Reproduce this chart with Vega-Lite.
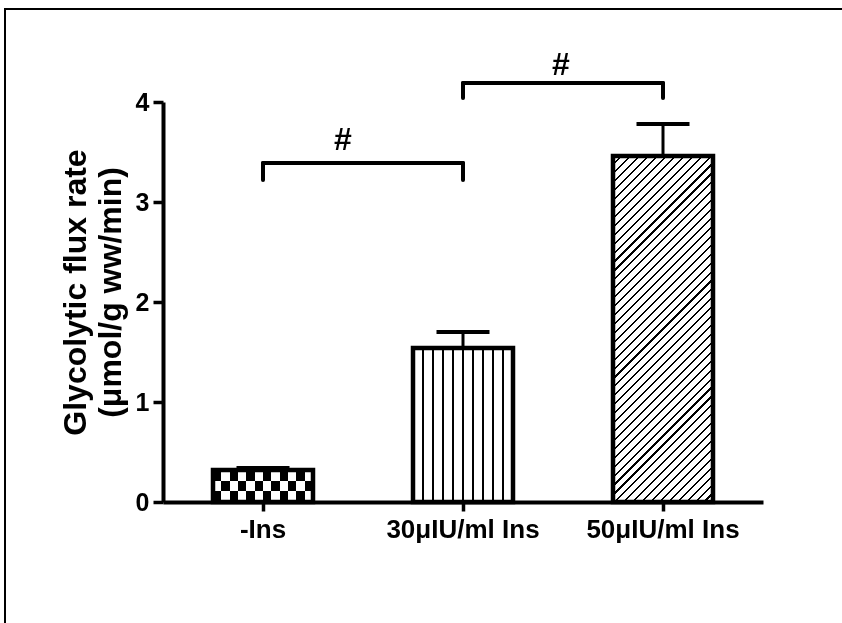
{
  "$schema": "https://vega.github.io/schema/vega-lite/v6.json",
  "width": 838,
  "height": 615,
  "autosize": {"type": "none"},
  "padding": {"left": 5, "top": 9, "right": 0, "bottom": 0},
  "background": "white",
  "config": {
    "view": {"stroke": "black", "strokeWidth": 2},
    "font": "Liberation Sans",
    "axis": {
      "domainColor": "black", "tickColor": "black", "labelColor": "black", "titleColor": "black",
      "labelFont": "Liberation Sans", "titleFont": "Liberation Sans",
      "labelFontWeight": "bold", "titleFontWeight": "bold",
      "grid": false, "domainWidth": 4, "tickWidth": 3.5
    }
  },
  "datasets": {
    "bars": [
      {"group": "-Ins", "value": 0.32, "upper": 0.34},
      {"group": "30μIU/ml Ins", "value": 1.54, "upper": 1.70},
      {"group": "50μIU/ml Ins", "value": 3.46, "upper": 3.78}
    ],
    "brackets": [
      {"from": "-Ins", "to": "30μIU/ml Ins", "y": 3.39, "end": 3.22},
      {"from": "30μIU/ml Ins", "to": "50μIU/ml Ins", "y": 4.19, "end": 4.04}
    ]
  },
  "layer": [
    {
      "data": {"name": "bars"},
      "transform": [{"filter": "datum.group === '-Ins'"}],
      "mark": {
        "type": "bar",
        "fill": {"gradient": "linear", "x1": 0, "y1": 0, "x2": 1, "y2": 0, "stops": [
          {"offset": 0, "color": "#000"}, {"offset": 0.0833, "color": "#000"},
          {"offset": 0.0833, "color": "#fff"}, {"offset": 0.1667, "color": "#fff"},
          {"offset": 0.1667, "color": "#000"}, {"offset": 0.25, "color": "#000"},
          {"offset": 0.25, "color": "#fff"}, {"offset": 0.3333, "color": "#fff"},
          {"offset": 0.3333, "color": "#000"}, {"offset": 0.4167, "color": "#000"},
          {"offset": 0.4167, "color": "#fff"}, {"offset": 0.5, "color": "#fff"},
          {"offset": 0.5, "color": "#000"}, {"offset": 0.5833, "color": "#000"},
          {"offset": 0.5833, "color": "#fff"}, {"offset": 0.6667, "color": "#fff"},
          {"offset": 0.6667, "color": "#000"}, {"offset": 0.75, "color": "#000"},
          {"offset": 0.75, "color": "#fff"}, {"offset": 0.8333, "color": "#fff"},
          {"offset": 0.8333, "color": "#000"}, {"offset": 0.9167, "color": "#000"},
          {"offset": 0.9167, "color": "#fff"}, {"offset": 1, "color": "#fff"}
        ]}
      },
      "encoding": {
        "x": {
          "field": "group", "type": "nominal", "title": null,
          "scale": {"domain": ["-Ins", "30μIU/ml Ins", "50μIU/ml Ins"], "range": [158, 758], "paddingInner": 0.5, "paddingOuter": 0.25},
          "axis": {"orient": "bottom", "offset": -122, "title": null, "labelAngle": 0, "labelFontSize": 26, "labelPadding": 5, "tickSize": 9, "labelLimit": 0}
        },
        "y": {
          "field": "value", "type": "quantitative",
          "title": ["Glycolytic flux rate", "(μmol/g ww/min)"],
          "scale": {"domain": [0, 4], "range": [493, 93], "nice": false, "zero": false},
          "axis": {
            "orient": "left", "offset": -158, "values": [0, 1, 2, 3, 4], "format": "d",
            "tickSize": 10, "labelFontSize": 25, "labelPadding": 4,
            "title": ["Glycolytic flux rate", "(μmol/g ww/min)"],
            "titleFontSize": 32, "titlePadding": 8, "titleLineHeight": 35, "titleY": 283
          }
        }
      }
    },
    {
      "data": {"name": "bars"},
      "transform": [{"filter": "datum.group === '-Ins'"}],
      "mark": {
        "type": "bar",
        "blend": "difference",
        "fill": {"gradient": "linear", "x1": 0, "y1": 0, "x2": 0, "y2": 1, "stops": [
          {"offset": 0, "color": "#000"}, {"offset": 0.3333, "color": "#000"},
          {"offset": 0.3333, "color": "#fff"}, {"offset": 0.6667, "color": "#fff"},
          {"offset": 0.6667, "color": "#000"}, {"offset": 1, "color": "#000"}
        ]}
      },
      "encoding": {
        "x": {"field": "group", "type": "nominal"},
        "y": {"field": "value", "type": "quantitative"}
      }
    },
    {
      "data": {"name": "bars"},
      "transform": [{"filter": "datum.group === '30μIU/ml Ins'"}],
      "mark": {
        "type": "bar",
        "fill": {"gradient": "linear", "x1": 0, "y1": 0, "x2": 1, "y2": 0, "stops": [
          {"offset": 0, "color": "#fff"},
          {"offset": 0.093, "color": "#fff"}, {"offset": 0.093, "color": "#000"}, {"offset": 0.107, "color": "#000"}, {"offset": 0.107, "color": "#fff"},
          {"offset": 0.193, "color": "#fff"}, {"offset": 0.193, "color": "#000"}, {"offset": 0.207, "color": "#000"}, {"offset": 0.207, "color": "#fff"},
          {"offset": 0.293, "color": "#fff"}, {"offset": 0.293, "color": "#000"}, {"offset": 0.307, "color": "#000"}, {"offset": 0.307, "color": "#fff"},
          {"offset": 0.393, "color": "#fff"}, {"offset": 0.393, "color": "#000"}, {"offset": 0.407, "color": "#000"}, {"offset": 0.407, "color": "#fff"},
          {"offset": 0.493, "color": "#fff"}, {"offset": 0.493, "color": "#000"}, {"offset": 0.507, "color": "#000"}, {"offset": 0.507, "color": "#fff"},
          {"offset": 0.593, "color": "#fff"}, {"offset": 0.593, "color": "#000"}, {"offset": 0.607, "color": "#000"}, {"offset": 0.607, "color": "#fff"},
          {"offset": 0.693, "color": "#fff"}, {"offset": 0.693, "color": "#000"}, {"offset": 0.707, "color": "#000"}, {"offset": 0.707, "color": "#fff"},
          {"offset": 0.793, "color": "#fff"}, {"offset": 0.793, "color": "#000"}, {"offset": 0.807, "color": "#000"}, {"offset": 0.807, "color": "#fff"},
          {"offset": 0.893, "color": "#fff"}, {"offset": 0.893, "color": "#000"}, {"offset": 0.907, "color": "#000"}, {"offset": 0.907, "color": "#fff"},
          {"offset": 1, "color": "#fff"}
        ]}
      },
      "encoding": {
        "x": {"field": "group", "type": "nominal"},
        "y": {"field": "value", "type": "quantitative"}
      }
    },
    {
      "data": {"name": "bars"},
      "transform": [{"filter": "datum.group === '50μIU/ml Ins'"}],
      "mark": {
        "type": "bar",
        "fill": {"gradient": "linear", "x1": 0, "y1": 0, "x2": 0.3438, "y2": 1.1896, "stops": [
          {"offset": 0, "color": "#fff"},
          {"offset": 0.0176, "color": "#fff"}, {"offset": 0.0176, "color": "#000"}, {"offset": 0.0224, "color": "#000"}, {"offset": 0.0224, "color": "#fff"},
          {"offset": 0.0376, "color": "#fff"}, {"offset": 0.0376, "color": "#000"}, {"offset": 0.0424, "color": "#000"}, {"offset": 0.0424, "color": "#fff"},
          {"offset": 0.0576, "color": "#fff"}, {"offset": 0.0576, "color": "#000"}, {"offset": 0.0624, "color": "#000"}, {"offset": 0.0624, "color": "#fff"},
          {"offset": 0.0776, "color": "#fff"}, {"offset": 0.0776, "color": "#000"}, {"offset": 0.0824, "color": "#000"}, {"offset": 0.0824, "color": "#fff"},
          {"offset": 0.0976, "color": "#fff"}, {"offset": 0.0976, "color": "#000"}, {"offset": 0.1024, "color": "#000"}, {"offset": 0.1024, "color": "#fff"},
          {"offset": 0.1176, "color": "#fff"}, {"offset": 0.1176, "color": "#000"}, {"offset": 0.1224, "color": "#000"}, {"offset": 0.1224, "color": "#fff"},
          {"offset": 0.1376, "color": "#fff"}, {"offset": 0.1376, "color": "#000"}, {"offset": 0.1424, "color": "#000"}, {"offset": 0.1424, "color": "#fff"},
          {"offset": 0.1576, "color": "#fff"}, {"offset": 0.1576, "color": "#000"}, {"offset": 0.1624, "color": "#000"}, {"offset": 0.1624, "color": "#fff"},
          {"offset": 0.1776, "color": "#fff"}, {"offset": 0.1776, "color": "#000"}, {"offset": 0.1824, "color": "#000"}, {"offset": 0.1824, "color": "#fff"},
          {"offset": 0.1976, "color": "#fff"}, {"offset": 0.1976, "color": "#000"}, {"offset": 0.2024, "color": "#000"}, {"offset": 0.2024, "color": "#fff"},
          {"offset": 0.2176, "color": "#fff"}, {"offset": 0.2176, "color": "#000"}, {"offset": 0.2224, "color": "#000"}, {"offset": 0.2224, "color": "#fff"},
          {"offset": 0.2376, "color": "#fff"}, {"offset": 0.2376, "color": "#000"}, {"offset": 0.2424, "color": "#000"}, {"offset": 0.2424, "color": "#fff"},
          {"offset": 0.2576, "color": "#fff"}, {"offset": 0.2576, "color": "#000"}, {"offset": 0.2624, "color": "#000"}, {"offset": 0.2624, "color": "#fff"},
          {"offset": 0.2776, "color": "#fff"}, {"offset": 0.2776, "color": "#000"}, {"offset": 0.2824, "color": "#000"}, {"offset": 0.2824, "color": "#fff"},
          {"offset": 0.2976, "color": "#fff"}, {"offset": 0.2976, "color": "#000"}, {"offset": 0.3024, "color": "#000"}, {"offset": 0.3024, "color": "#fff"},
          {"offset": 0.3176, "color": "#fff"}, {"offset": 0.3176, "color": "#000"}, {"offset": 0.3224, "color": "#000"}, {"offset": 0.3224, "color": "#fff"},
          {"offset": 0.3376, "color": "#fff"}, {"offset": 0.3376, "color": "#000"}, {"offset": 0.3424, "color": "#000"}, {"offset": 0.3424, "color": "#fff"},
          {"offset": 0.3576, "color": "#fff"}, {"offset": 0.3576, "color": "#000"}, {"offset": 0.3624, "color": "#000"}, {"offset": 0.3624, "color": "#fff"},
          {"offset": 0.3776, "color": "#fff"}, {"offset": 0.3776, "color": "#000"}, {"offset": 0.3824, "color": "#000"}, {"offset": 0.3824, "color": "#fff"},
          {"offset": 0.3976, "color": "#fff"}, {"offset": 0.3976, "color": "#000"}, {"offset": 0.4024, "color": "#000"}, {"offset": 0.4024, "color": "#fff"},
          {"offset": 0.4176, "color": "#fff"}, {"offset": 0.4176, "color": "#000"}, {"offset": 0.4224, "color": "#000"}, {"offset": 0.4224, "color": "#fff"},
          {"offset": 0.4376, "color": "#fff"}, {"offset": 0.4376, "color": "#000"}, {"offset": 0.4424, "color": "#000"}, {"offset": 0.4424, "color": "#fff"},
          {"offset": 0.4576, "color": "#fff"}, {"offset": 0.4576, "color": "#000"}, {"offset": 0.4624, "color": "#000"}, {"offset": 0.4624, "color": "#fff"},
          {"offset": 0.4776, "color": "#fff"}, {"offset": 0.4776, "color": "#000"}, {"offset": 0.4824, "color": "#000"}, {"offset": 0.4824, "color": "#fff"},
          {"offset": 0.4976, "color": "#fff"}, {"offset": 0.4976, "color": "#000"}, {"offset": 0.5024, "color": "#000"}, {"offset": 0.5024, "color": "#fff"},
          {"offset": 0.5176, "color": "#fff"}, {"offset": 0.5176, "color": "#000"}, {"offset": 0.5224, "color": "#000"}, {"offset": 0.5224, "color": "#fff"},
          {"offset": 0.5376, "color": "#fff"}, {"offset": 0.5376, "color": "#000"}, {"offset": 0.5424, "color": "#000"}, {"offset": 0.5424, "color": "#fff"},
          {"offset": 0.5576, "color": "#fff"}, {"offset": 0.5576, "color": "#000"}, {"offset": 0.5624, "color": "#000"}, {"offset": 0.5624, "color": "#fff"},
          {"offset": 0.5776, "color": "#fff"}, {"offset": 0.5776, "color": "#000"}, {"offset": 0.5824, "color": "#000"}, {"offset": 0.5824, "color": "#fff"},
          {"offset": 0.5976, "color": "#fff"}, {"offset": 0.5976, "color": "#000"}, {"offset": 0.6024, "color": "#000"}, {"offset": 0.6024, "color": "#fff"},
          {"offset": 0.6176, "color": "#fff"}, {"offset": 0.6176, "color": "#000"}, {"offset": 0.6224, "color": "#000"}, {"offset": 0.6224, "color": "#fff"},
          {"offset": 0.6376, "color": "#fff"}, {"offset": 0.6376, "color": "#000"}, {"offset": 0.6424, "color": "#000"}, {"offset": 0.6424, "color": "#fff"},
          {"offset": 0.6576, "color": "#fff"}, {"offset": 0.6576, "color": "#000"}, {"offset": 0.6624, "color": "#000"}, {"offset": 0.6624, "color": "#fff"},
          {"offset": 0.6776, "color": "#fff"}, {"offset": 0.6776, "color": "#000"}, {"offset": 0.6824, "color": "#000"}, {"offset": 0.6824, "color": "#fff"},
          {"offset": 0.6976, "color": "#fff"}, {"offset": 0.6976, "color": "#000"}, {"offset": 0.7024, "color": "#000"}, {"offset": 0.7024, "color": "#fff"},
          {"offset": 0.7176, "color": "#fff"}, {"offset": 0.7176, "color": "#000"}, {"offset": 0.7224, "color": "#000"}, {"offset": 0.7224, "color": "#fff"},
          {"offset": 0.7376, "color": "#fff"}, {"offset": 0.7376, "color": "#000"}, {"offset": 0.7424, "color": "#000"}, {"offset": 0.7424, "color": "#fff"},
          {"offset": 0.7576, "color": "#fff"}, {"offset": 0.7576, "color": "#000"}, {"offset": 0.7624, "color": "#000"}, {"offset": 0.7624, "color": "#fff"},
          {"offset": 0.7776, "color": "#fff"}, {"offset": 0.7776, "color": "#000"}, {"offset": 0.7824, "color": "#000"}, {"offset": 0.7824, "color": "#fff"},
          {"offset": 0.7976, "color": "#fff"}, {"offset": 0.7976, "color": "#000"}, {"offset": 0.8024, "color": "#000"}, {"offset": 0.8024, "color": "#fff"},
          {"offset": 0.8176, "color": "#fff"}, {"offset": 0.8176, "color": "#000"}, {"offset": 0.8224, "color": "#000"}, {"offset": 0.8224, "color": "#fff"},
          {"offset": 0.8376, "color": "#fff"}, {"offset": 0.8376, "color": "#000"}, {"offset": 0.8424, "color": "#000"}, {"offset": 0.8424, "color": "#fff"},
          {"offset": 0.8576, "color": "#fff"}, {"offset": 0.8576, "color": "#000"}, {"offset": 0.8624, "color": "#000"}, {"offset": 0.8624, "color": "#fff"},
          {"offset": 0.8776, "color": "#fff"}, {"offset": 0.8776, "color": "#000"}, {"offset": 0.8824, "color": "#000"}, {"offset": 0.8824, "color": "#fff"},
          {"offset": 0.8976, "color": "#fff"}, {"offset": 0.8976, "color": "#000"}, {"offset": 0.9024, "color": "#000"}, {"offset": 0.9024, "color": "#fff"},
          {"offset": 0.9176, "color": "#fff"}, {"offset": 0.9176, "color": "#000"}, {"offset": 0.9224, "color": "#000"}, {"offset": 0.9224, "color": "#fff"},
          {"offset": 0.9376, "color": "#fff"}, {"offset": 0.9376, "color": "#000"}, {"offset": 0.9424, "color": "#000"}, {"offset": 0.9424, "color": "#fff"},
          {"offset": 0.9576, "color": "#fff"}, {"offset": 0.9576, "color": "#000"}, {"offset": 0.9624, "color": "#000"}, {"offset": 0.9624, "color": "#fff"},
          {"offset": 0.9776, "color": "#fff"}, {"offset": 0.9776, "color": "#000"}, {"offset": 0.9824, "color": "#000"}, {"offset": 0.9824, "color": "#fff"},
          {"offset": 1, "color": "#fff"}
        ]}
      },
      "encoding": {
        "x": {"field": "group", "type": "nominal"},
        "y": {"field": "value", "type": "quantitative"}
      }
    },
    {
      "data": {"name": "bars"},
      "mark": {"type": "bar", "filled": false, "stroke": "black", "strokeWidth": 4.5},
      "encoding": {
        "x": {"field": "group", "type": "nominal"},
        "y": {"field": "value", "type": "quantitative"}
      }
    },
    {
      "data": {"name": "bars"},
      "mark": {"type": "rule", "color": "black", "strokeWidth": 3},
      "encoding": {
        "x": {"field": "group", "type": "nominal"},
        "y": {"field": "value", "type": "quantitative"},
        "y2": {"field": "upper"}
      }
    },
    {
      "data": {"name": "bars"},
      "mark": {"type": "tick", "color": "black", "opacity": 1, "orient": "horizontal", "size": 53, "thickness": 4},
      "encoding": {
        "x": {"field": "group", "type": "nominal"},
        "y": {"field": "upper", "type": "quantitative"}
      }
    },
    {
      "data": {"name": "brackets"},
      "mark": {"type": "rule", "color": "black", "strokeWidth": 4, "strokeCap": "round"},
      "encoding": {
        "x": {"field": "from", "type": "nominal", "bandPosition": 0.5},
        "x2": {"field": "to", "bandPosition": 0.5},
        "y": {"field": "y", "type": "quantitative"}
      }
    },
    {
      "data": {"name": "brackets"},
      "mark": {"type": "rule", "color": "black", "strokeWidth": 4, "strokeCap": "round"},
      "encoding": {
        "x": {"field": "from", "type": "nominal", "bandPosition": 0.5},
        "y": {"field": "y", "type": "quantitative"},
        "y2": {"field": "end"}
      }
    },
    {
      "data": {"name": "brackets"},
      "mark": {"type": "rule", "color": "black", "strokeWidth": 4, "strokeCap": "round"},
      "encoding": {
        "x": {"field": "to", "type": "nominal", "bandPosition": 0.5},
        "y": {"field": "y", "type": "quantitative"},
        "y2": {"field": "end"}
      }
    },
    {
      "data": {"name": "brackets"},
      "transform": [{"filter": "datum.from === '-Ins'"}],
      "mark": {"type": "text", "text": "#", "font": "Liberation Sans", "fontWeight": 700, "fontSize": 32, "baseline": "alphabetic", "align": "center", "dy": -13},
      "encoding": {
        "x": {"field": "from", "type": "nominal", "bandPosition": 1.3},
        "y": {"field": "y", "type": "quantitative"}
      }
    },
    {
      "data": {"name": "brackets"},
      "transform": [{"filter": "datum.from !== '-Ins'"}],
      "mark": {"type": "text", "text": "#", "font": "Liberation Sans", "fontWeight": 700, "fontSize": 32, "baseline": "alphabetic", "align": "center", "dy": -8},
      "encoding": {
        "x": {"field": "from", "type": "nominal", "bandPosition": 1.48},
        "y": {"field": "y", "type": "quantitative"}
      }
    }
  ]
}
